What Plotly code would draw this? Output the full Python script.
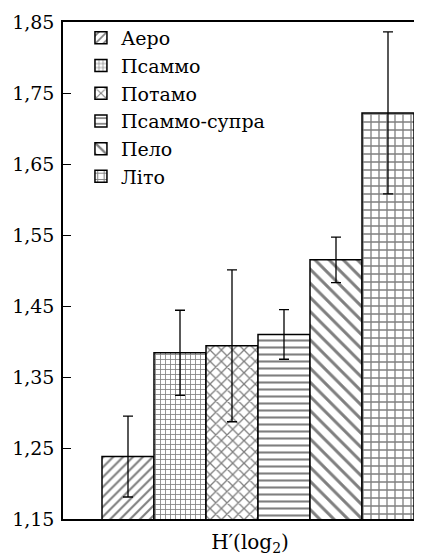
import plotly.graph_objects as go

category = ["H′(log<sub>2</sub>)"]
series_names = ["Аеро", "Псаммо", "Потамо", "Псаммо-супра", "Пело", "Літо"]
means = [1.238, 1.384, 1.394, 1.410, 1.515, 1.722]
errors = [0.057, 0.060, 0.107, 0.035, 0.032, 0.114]
patterns = ["/", "+", "x", "-", "\\", "+"]
pattern_sizes = [7, 5, 8, 7, 10, 8]
y_ticks = [1.15, 1.25, 1.35, 1.45, 1.55, 1.65, 1.75, 1.85]

FONT = "DejaVu Serif"

fig = go.Figure()
for name, m, e, p, s in zip(series_names, means, errors, patterns, pattern_sizes):
    fig.add_trace(go.Bar(
        name=name,
        x=category,
        y=[m],
        marker=dict(
            color="white",
            line=dict(color="black", width=1.5),
            pattern=dict(shape=p, fgcolor="black", bgcolor="white", size=s, solidity=0.3),
        ),
        error_y=dict(type="data", array=[e], visible=True, color="black", thickness=1.3, width=5),
    ))

fig.update_layout(
    width=414, height=552,
    margin=dict(l=55, r=0, t=14, b=41),
    paper_bgcolor="white", plot_bgcolor="white",
    barmode="group", bargap=0.2, bargroupgap=0,
    separators=", ",
    font=dict(family=FONT, color="black", size=19),
    showlegend=True,
    legend=dict(
        x=0.05, y=1.006, xanchor="left", yanchor="top",
        bgcolor="rgba(0,0,0,0)", font=dict(family=FONT, size=19, color="black"),
        tracegroupgap=0, itemwidth=30,
    ),
)
fig.update_xaxes(
    range=[-0.5, 0.4205], showline=True, linecolor="black", linewidth=1.5, mirror=True,
    ticks="", showgrid=False, zeroline=False, ticklabelshift=-8, ticklabelstandoff=4,
    automargin=False,
    tickfont=dict(family=FONT, size=20, color="black"),
)
fig.update_yaxes(
    range=[1.15, 1.85], tickvals=y_ticks, tickformat=".2f",
    showline=True, linecolor="black", linewidth=1.5, automargin=False,
    ticks="inside", ticklen=8, tickwidth=1.3, tickcolor="black",
    showgrid=False, zeroline=False, ticklabelstandoff=3,
    tickfont=dict(family=FONT, size=19, color="black"),
)

fig.write_html("out.html")
